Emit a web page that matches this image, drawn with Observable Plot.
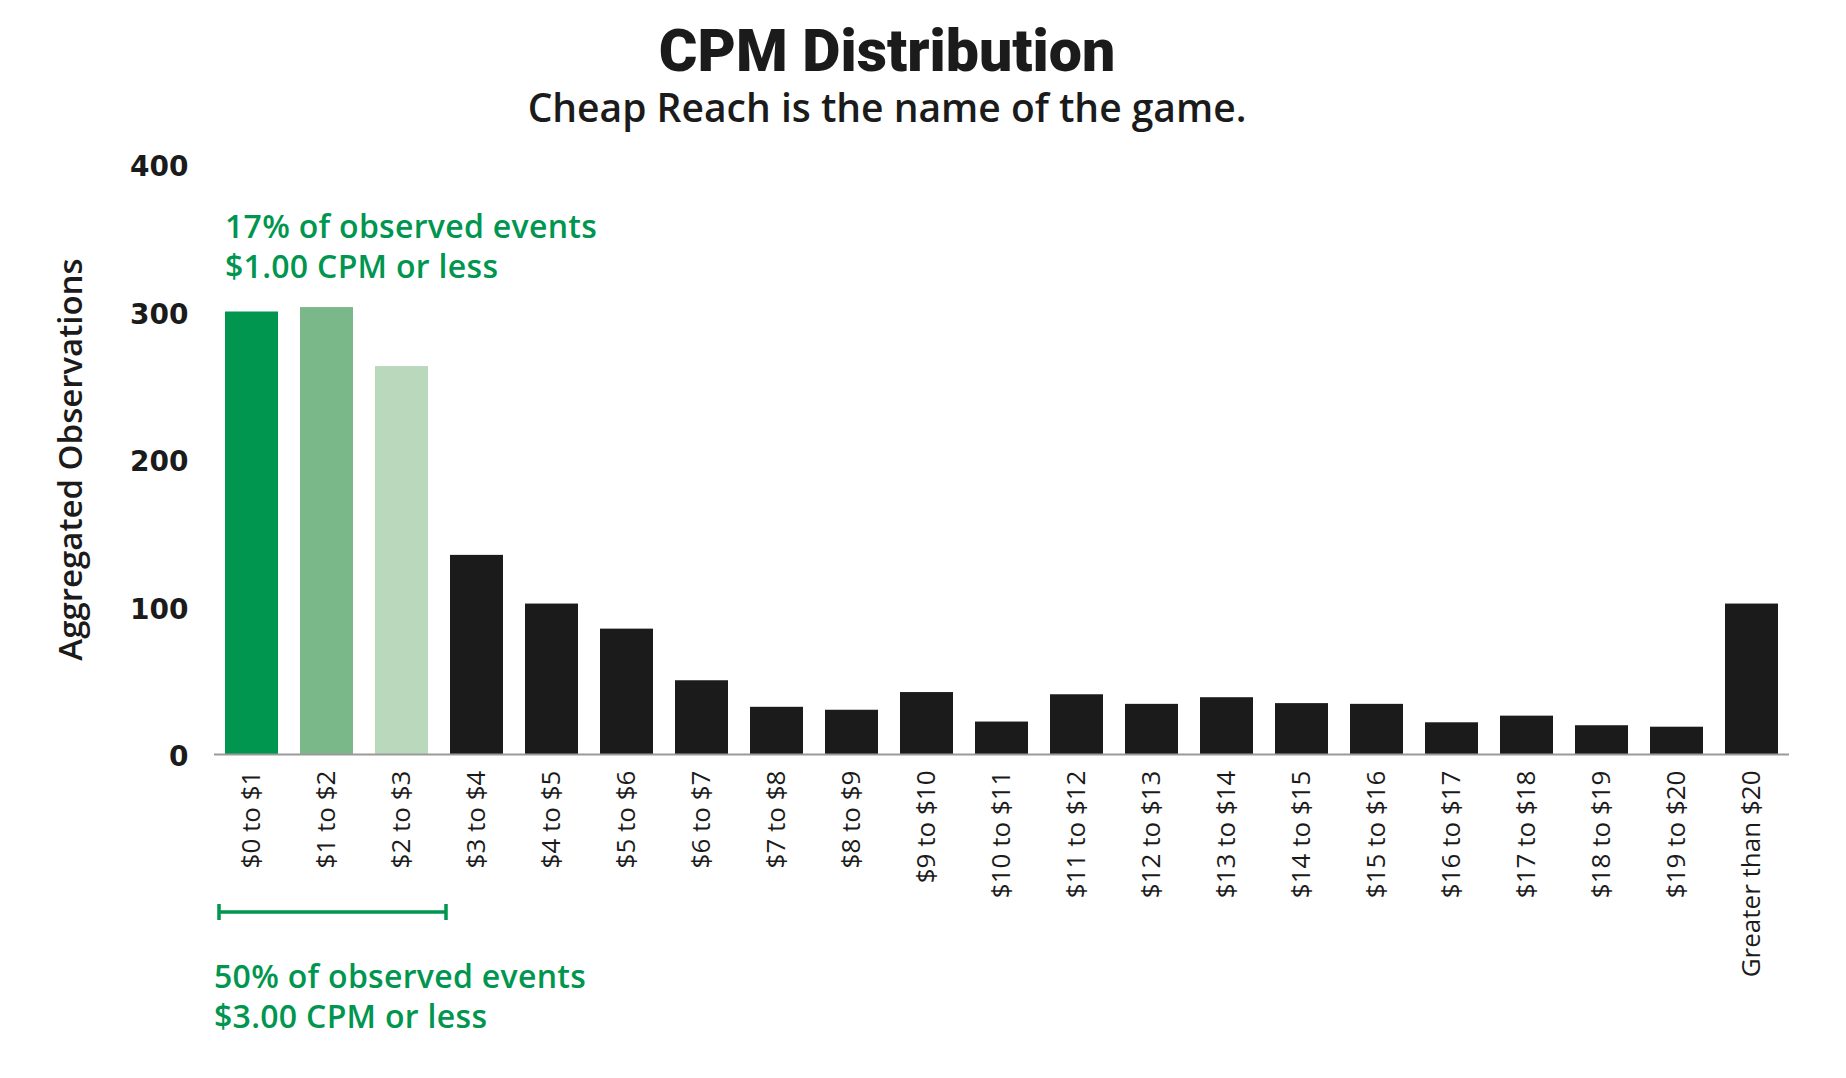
<!DOCTYPE html>
<html>
<head>
<meta charset="utf-8">
<script src="https://cdn.jsdelivr.net/npm/d3@7"></script>
<script src="https://cdn.jsdelivr.net/npm/@observablehq/plot@0.6"></script>
<style>
  html, body { margin: 0; padding: 0; background: #fff; }
  #wrap { position: relative; width: 1846px; height: 1078px; overflow: hidden; }
  #hdr { position: relative; width: 1846px; height: 140px; }
  #title { position: absolute; left: 0; width: 1774px; top: 21px; text-align: center;
           font-family: Roboto, sans-serif; font-weight: 900; font-size: 59px; line-height: 1; color: #1b1b1b; }
  #sub { position: absolute; left: 0; width: 1774px; top: 87px; text-align: center;
         font-family: "Open Sans", sans-serif; font-weight: 600; font-size: 39px; line-height: 1; color: #1b1b1b; }
  #chart svg { display: block; }
</style>
</head>
<body>
<div id="wrap">
  <div id="hdr">
    <div id="title">CPM Distribution</div>
    <div id="sub">Cheap Reach is the name of the game.</div>
  </div>
  <div id="chart"></div>
</div>
<script>
// ---- data ----
const categories = ["$0 to $1", "$1 to $2", "$2 to $3", "$3 to $4", "$4 to $5", "$5 to $6", "$6 to $7",
  "$7 to $8", "$8 to $9", "$9 to $10", "$10 to $11", "$11 to $12", "$12 to $13", "$13 to $14",
  "$14 to $15", "$15 to $16", "$16 to $17", "$17 to $18", "$18 to $19", "$19 to $20", "Greater than $20"];
const observations = [300, 303, 263, 135, 102, 85, 50, 32, 30, 42, 22, 40.5, 34, 38.5, 34.5, 34, 21.5, 26, 19.5, 18.5, 102];
const yTicks = [0, 100, 200, 300, 400];
const yLabel = "Aggregated Observations";
const topNote = ["17% of observed events", "$1.00 CPM or less"];
const topNoteY = 350;
const bottomNote = ["50% of observed events", "$3.00 CPM or less"];
const bracketFrom = "$0 to $1";
const bracketTo = "$2 to $3";

// ---- styles ----
const GREEN = "#00964f";
const barPalette = ["#00964f", "#7bb889", "#b9d8bc"];
const BAR_DARK = "#1b1b1b";
const TEXT = "#1b1b1b";
const FONT = "'Open Sans', sans-serif";

const rows = categories.map((c, i) => ({cat: c, value: observations[i], color: barPalette[i] || BAR_DARK}));

function notes(index, scales, values, dims) {
  const {x, y} = scales;
  const bw = x.bandwidth();
  const g = d3.create("svg:g").attr("text-anchor", "start").attr("fill", GREEN)
    .attr("font-family", FONT).attr("font-weight", 600).attr("font-size", 32).attr("letter-spacing", 0.3);
  const frameBottom = dims.height - dims.marginBottom;
  // top note
  topNote.forEach((line, i) => g.append("text").attr("x", x(categories[0]))
    .attr("y", y(topNoteY) + i * 40).text(line));
  // bracket
  const bx1 = x(bracketFrom) - 6, bx2 = x(bracketTo) + bw + 18, by = frameBottom + 158;
  g.append("path").attr("fill", "none").attr("stroke", GREEN).attr("stroke-width", 3.5)
    .attr("d", `M${bx1},${by - 8}V${by + 8}M${bx1},${by}H${bx2}M${bx2},${by - 8}V${by + 8}`);
  // bottom note
  bottomNote.forEach((line, i) => g.append("text").attr("x", dims.marginLeft)
    .attr("y", frameBottom + 234 + i * 40).text(line));
  return g.node();
}

const chart = Plot.plot({
  width: 1846,
  height: 938,
  marginTop: 24,
  marginBottom: 324,
  marginLeft: 214,
  marginRight: 57,
  style: {fontFamily: FONT, color: TEXT, background: "#fff"},
  x: {domain: categories, paddingInner: 0.29, paddingOuter: 0.145, label: null},
  y: {domain: [0, 400], label: null},
  marks: [
    Plot.barY(rows, {x: "cat", y: "value", fill: "color"}),
    Plot.ruleY([0], {stroke: "#9a9a9a", strokeWidth: 2}),
    Plot.axisY({ticks: yTicks, tickSize: 0, tickPadding: 26, fontSize: 28, fontWeight: 700,
      fontFamily: "DejaVu Sans", fill: TEXT, dy: 3, label: null}),
    Plot.axisX({tickRotate: -90, tickSize: 0, tickPadding: 16, fontSize: 26, fill: TEXT, label: null}),
    Plot.text([yLabel], {frameAnchor: "left", text: d => d, rotate: -90, dx: -143, textAnchor: "middle",
      fontSize: 33, fontWeight: 600, fill: TEXT}),
    notes
  ]
});
document.getElementById("chart").appendChild(chart);
</script>
</body>
</html>
